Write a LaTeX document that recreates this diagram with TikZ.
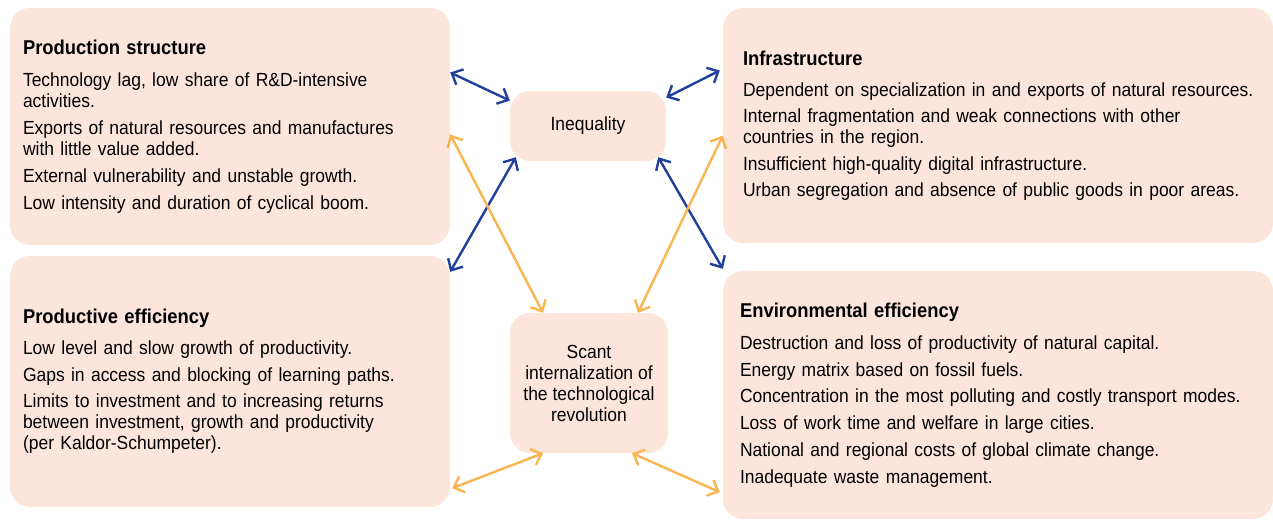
\documentclass[tikz,border=0pt]{standalone}
\usepackage{fontspec}
\setmainfont[FakeStretch=0.92]{Liberation Sans}
\usepackage{xcolor}
\usetikzlibrary{arrows.meta}

\definecolor{panelfill}{RGB}{252,230,220}
\definecolor{linkblue}{RGB}{33,64,154}
\definecolor{linkorange}{RGB}{250,180,80}

\begin{document}
\begin{tikzpicture}[x=1pt,y=-1pt,
    box/.style={fill=panelfill,rounded corners=20pt,
                font=\fontsize{19}{21}\selectfont},
    panel/.style={box,align=left,text width=414pt,inner xsep=13pt,
                  minimum width=440pt},
    core/.style={box,align=center,inner sep=0pt},
    link/.style={{Straight Barb[length=9pt,width=17pt]}-{Straight Barb[length=9pt,width=17pt]},
                 line width=2.4pt,color=linkblue},
    feed/.style={link,color=linkorange}
  ]
    \useasboundingbox (0,0) rectangle (1273,519);
    \node[panel,minimum height=237pt] (prod) at (230,126.5)
      {{\fontsize{20}{21}\selectfont\bfseries Production structure}\\[11pt]
       Technology lag, low share of R\&D-intensive\\ activities.\\[6pt]
       Exports of natural resources and manufactures\\ with little value added.\\[6pt]
       External vulnerability and unstable growth.\\[6pt]
       Low intensity and duration of cyclical boom.};
    \node[panel,minimum height=251pt] (eff) at (230,381.5)
      {{\fontsize{20}{21}\selectfont\bfseries Productive efficiency}\\[10pt]
       Low level and slow growth of productivity.\\[5.5pt]
       Gaps in access and blocking of learning paths.\\[5.5pt]
       Limits to investment and to increasing returns\\
       between investment, growth and productivity\\
       (per Kaldor-Schumpeter).};
    \node[panel,text width=510pt,inner xsep=20pt,minimum width=550pt,
          minimum height=235pt] (infra) at (998,125.5)
      {{\fontsize{20}{21}\selectfont\bfseries Infrastructure}\\[10pt]
       \mbox{Dependent on specialization in and exports of natural resources.}\\[5.5pt]
       Internal fragmentation and weak connections with other\\ countries in the region.\\[5.5pt]
       Insufficient high-quality digital infrastructure.\\[5.5pt]
       Urban segregation and absence of public goods in poor areas.};
    \node[panel,text width=516pt,inner xsep=17pt,minimum width=550pt,
          minimum height=248pt] (env) at (998,395)
      {{\fontsize{20}{21}\selectfont\bfseries Environmental efficiency}\\[11pt]
       Destruction and loss of productivity of natural capital.\\[5.7pt]
       Energy matrix based on fossil fuels.\\[5.7pt]
       Concentration in the most polluting and costly transport modes.\\[5.7pt]
       Loss of work time and welfare in large cities.\\[5.7pt]
       National and regional costs of global climate change.\\[5.7pt]
       Inadequate waste management.};
    \node[core,minimum width=156pt,minimum height=70pt] (ineq) at (588,126)
      {Inequality};
    \node[core,minimum width=158pt,minimum height=140pt] (scant) at (589,383)
      {Scant\\ internalization of\\ the technological\\ revolution};
    % blue links around inequality
    \draw[link] ([yshift=54pt]prod.east) -- (ineq.162);
    \draw[link] (ineq.20) -- ([xshift=-3pt,yshift=55pt]infra.west);
    \draw[link] ([xshift=6pt,yshift=4pt]ineq.south west) -- ([yshift=-16pt]eff.north east);
    \draw[link] ([xshift=-8pt,yshift=4pt]ineq.south east) -- ([yshift=2pt]env.north west);
    % orange links around the technological revolution
    \draw[feed] ([yshift=-8pt]prod.east) -- ([xshift=-46pt]scant.north);
    \draw[feed] ([yshift=-10pt]infra.west) -- ([xshift=49pt]scant.north);
    \draw[feed] ([xshift=2pt,yshift=19pt]eff.south east) -- ([xshift=-46pt]scant.south);
    \draw[feed] ([xshift=43pt]scant.south) -- ([xshift=-3pt,yshift=27pt]env.south west);
  \end{tikzpicture}
\end{document}
